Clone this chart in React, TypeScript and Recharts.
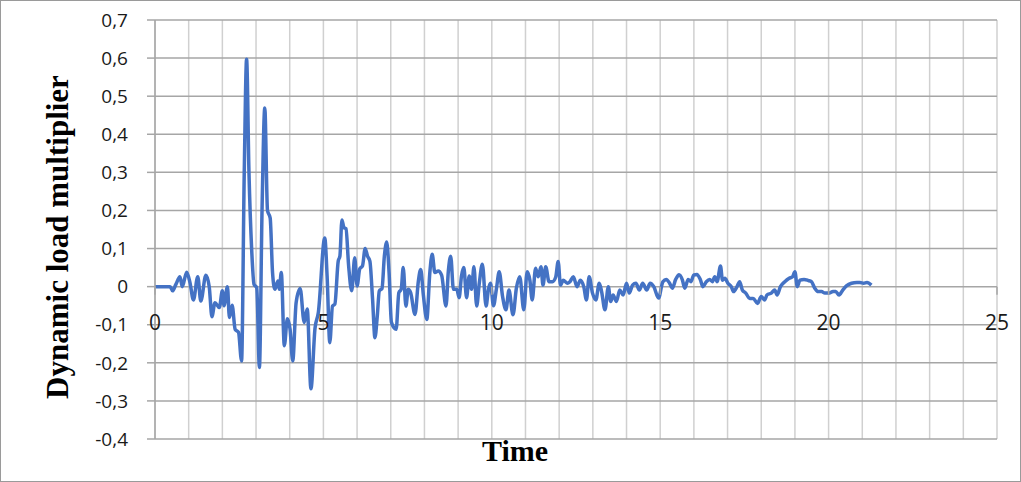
import { LineChart, Line, XAxis, YAxis, CartesianGrid } from "recharts"

// time (s) and dynamic load multiplier
const time = [
  0, 0.45, 0.52, 0.62, 0.74, 0.81, 0.94, 1.04, 1.14, 1.27, 1.36, 1.51, 1.61, 1.69, 1.78, 1.91, 2.0, 2.05,
  2.15, 2.21, 2.29, 2.38, 2.48, 2.57, 2.65, 2.72, 2.79, 2.87, 2.94, 3.02, 3.1, 3.18, 3.26, 3.34, 3.42,
  3.49, 3.56, 3.65, 3.69, 3.75, 3.84, 3.93, 4.01, 4.09, 4.19, 4.31, 4.43, 4.52, 4.63, 4.75, 4.85, 5.04,
  5.11, 5.19, 5.27, 5.34, 5.44, 5.49, 5.55, 5.61, 5.67, 5.75, 5.84, 5.93, 6.0, 6.08, 6.16, 6.24, 6.31,
  6.38, 6.46, 6.53, 6.6, 6.66, 6.74, 6.81, 6.88, 6.95, 7.02, 7.16, 7.24, 7.31, 7.37, 7.45, 7.52, 7.59,
  7.72, 7.82, 7.89, 7.97, 8.07, 8.16, 8.23, 8.31, 8.41, 8.51, 8.64, 8.71, 8.78, 8.86, 8.96, 9.03, 9.1,
  9.17, 9.25, 9.33, 9.4, 9.47, 9.55, 9.63, 9.72, 9.83, 9.9, 9.96, 10.05, 10.14, 10.22, 10.32, 10.42,
  10.51, 10.63, 10.73, 10.83, 10.95, 11.05, 11.13, 11.2, 11.3, 11.38, 11.46, 11.52, 11.6, 11.7, 11.8,
  11.9, 11.97, 12.04, 12.12, 12.24, 12.32, 12.42, 12.53, 12.63, 12.73, 12.81, 12.89, 12.99, 13.09,
  13.19, 13.26, 13.36, 13.46, 13.53, 13.6, 13.7, 13.8, 13.9, 14.0, 14.08, 14.18, 14.28, 14.38, 14.48,
  14.6, 14.7, 14.81, 14.95, 15.08, 15.18, 15.28, 15.36, 15.46, 15.56, 15.66, 15.73, 15.83, 15.91, 16.0,
  16.09, 16.19, 16.27, 16.37, 16.47, 16.55, 16.62, 16.69, 16.79, 16.85, 16.92, 17.01, 17.11, 17.18,
  17.28, 17.36, 17.44, 17.54, 17.66, 17.76, 17.89, 18.0, 18.1, 18.17, 18.3, 18.4, 18.47, 18.57, 18.7,
  18.83, 18.93, 19.0, 19.07, 19.15, 19.27, 19.4, 19.49, 19.59, 19.69, 19.79, 19.89, 20.02, 20.13, 20.21,
  20.31, 20.42, 20.53, 20.68, 20.84, 20.93, 21.04, 21.14, 21.27,
]

const loadMultiplier = [
  0, 0, -0.011, 0.006, 0.026, 0, 0.038, 0.01, -0.035, 0.026, -0.038, 0.03, 0, -0.079, -0.042, -0.055, -0.011, -0.05,
  0, -0.081, -0.049, -0.112, -0.12, -0.195, 0.3, 0.597, 0.3, 0.098, 0.006, -0.003, -0.212, 0.21, 0.469, 0.2, 0.18,
  0.037, -0.007, 0.015, -0.007, 0.037, -0.155, -0.084, -0.112, -0.195, -0.042, -0.005, -0.094, -0.059, -0.268, -0.11, -0.068, 0.128,
  0.028, -0.147, -0.051, -0.046, 0.067, 0.08, 0.175, 0.155, 0.152, 0.054, -0.011, 0.076, 0.002, 0.047, 0.054, 0.1, 0.08,
  0.067, -0.033, -0.134, -0.077, -0.011, -0.005, 0.08, 0.117, 0.037, -0.094, -0.112, -0.016, -0.007, 0.05, -0.051, -0.007, -0.016,
  -0.073, 0.015, 0.045, -0.024, -0.086, 0.037, 0.085, 0.037, 0.041, 0.03, -0.051, 0.041, 0.08, -0.007, -0.007, -0.029, 0.028,
  0.05, -0.029, 0.028, -0.007, 0.052, -0.051, 0.01, 0.059, -0.051, -0.007, 0.009, -0.05, -0.004, 0.039, -0.026, -0.061,
  -0.009, -0.074, -0.004, 0.026, -0.061, 0.039, 0.017, -0.035, 0.048, 0.026, 0.052, 0.004, 0.052, 0.013, 0.013,
  0.026, 0.066, 0.004, 0.017, 0.009, 0.013, 0.026, 0, 0.017, 0, -0.035, 0.026, -0.017, -0.035,
  0.009, -0.013, -0.061, 0, -0.039, -0.022, -0.039, -0.009, -0.022, 0.009, -0.017, 0.004, 0.009, -0.009, 0.009,
  -0.009, 0.009, 0, -0.03, 0.013, 0.019, 0.009, -0.004, 0.019, 0.031, 0.017, -0.004, 0.019, 0.013, 0.031,
  0.032, 0.019, 0, 0.013, 0.019, 0.013, 0.026, 0.013, 0.054, 0.017, 0.022, 0.009, 0, -0.013,
  0, 0.013, -0.009, -0.017, -0.031, -0.031, -0.044, -0.026, -0.035, -0.022, -0.017, -0.009, -0.022, 0, 0.013,
  0.022, 0.026, 0.039, 0, 0.017, 0.019, 0.016, 0.013, -0.004, -0.013, -0.013, -0.017, -0.017, -0.013, -0.013,
  -0.022, -0.009, 0.002, 0.009, 0.011, 0.011, 0.009, 0.011, 0.004,
]

const xTicks = Array.from({ length: 26 }, (_, i) => i)
const xLabels = [0, 5, 10, 15, 20, 25]
const yTicks = [-0.4, -0.3, -0.2, -0.1, 0, 0.1, 0.2, 0.3, 0.4, 0.5, 0.6, 0.7]

const data = time.map((t, i) => ({ t, v: loadMultiplier[i] }))

// plot box
const W = 1021
const H = 482
const TOP = 20
const BOTTOM = 439
const RIGHT = 997
const Y_AXIS_W = 155
const X_AXIS_H = 30
const Y_MIN = -0.4
const Y_MAX = 0.7
const zeroY = TOP + ((Y_MAX - 0) / (Y_MAX - Y_MIN)) * (BOTTOM - TOP)

const tickFont = "'Open Sans', 'Liberation Sans', sans-serif"
const titleFont = "'Liberation Serif', 'Times New Roman', serif"

const formatY = (v: number) => (Math.abs(v) < 1e-9 ? "0" : v.toFixed(1).replace(".", ","))

// x labels sit on the zero line, like Excel's "axis crosses at 0"
const XTick = (props: any) => {
  const { x, payload } = props
  if (!xLabels.includes(Number(payload.value))) return <g />
  return (
    <g>
      <line x1={x} x2={x} y1={zeroY} y2={zeroY + 8} stroke="#a6a6a6" strokeWidth={1.5} />
      <text x={x} y={zeroY + 43} textAnchor="middle" fontSize={21} fontFamily={tickFont} fill="#1a1a1a">
        {payload.value}
      </text>
    </g>
  )
}

export default function App() {
  return (
    <div
      style={{
        position: "absolute",
        left: 0,
        top: 0,
        width: W,
        height: H,
        border: "1px solid #9a9a9a",
        boxSizing: "border-box",
        background: "#fff",
      }}
    >
      <div style={{ position: "absolute", left: -1, top: -1 }}>
        <LineChart
          width={W}
          height={H}
          data={data}
          margin={{ top: TOP, right: W - RIGHT, bottom: H - BOTTOM - X_AXIS_H, left: 0 }}
        >
          <CartesianGrid horizontal={false} stroke="#d0d0d0" strokeWidth={1.5} />
          <CartesianGrid vertical={false} stroke="#a6a6a6" strokeWidth={1.5} />
          <XAxis
            type="number"
            dataKey="t"
            domain={[0, 25]}
            ticks={xTicks}
            interval={0}
            height={X_AXIS_H}
            axisLine={false}
            tickLine={false}
            tick={XTick}
          />
          <YAxis
            type="number"
            domain={[Y_MIN, Y_MAX]}
            ticks={yTicks}
            interval={0}
            width={Y_AXIS_W}
            tickFormatter={formatY}
            axisLine={{ stroke: "#a6a6a6", strokeWidth: 1.5 }}
            tickLine={{ stroke: "#a6a6a6", strokeWidth: 1.5 }}
            tickSize={8}
            tickMargin={19}
            tick={{ fontSize: 19, fontFamily: tickFont, fill: "#1a1a1a" }}
          />
          <Line
            type="monotone"
            dataKey="v"
            stroke="#4472C4"
            strokeWidth={3.5}
            dot={false}
            isAnimationActive={false}
          />
        </LineChart>
      </div>
      <div
        style={{
          position: "absolute",
          left: 57,
          top: 236,
          transform: "translate(-50%, -50%) rotate(-90deg)",
          whiteSpace: "nowrap",
          fontFamily: titleFont,
          fontWeight: "bold",
          fontSize: 31,
        }}
      >
        Dynamic load multiplier
      </div>
      <div
        style={{
          position: "absolute",
          left: 514,
          top: 450,
          transform: "translate(-50%, -50%)",
          whiteSpace: "nowrap",
          fontFamily: titleFont,
          fontWeight: "bold",
          fontSize: 30,
        }}
      >
        Time
      </div>
    </div>
  )
}
